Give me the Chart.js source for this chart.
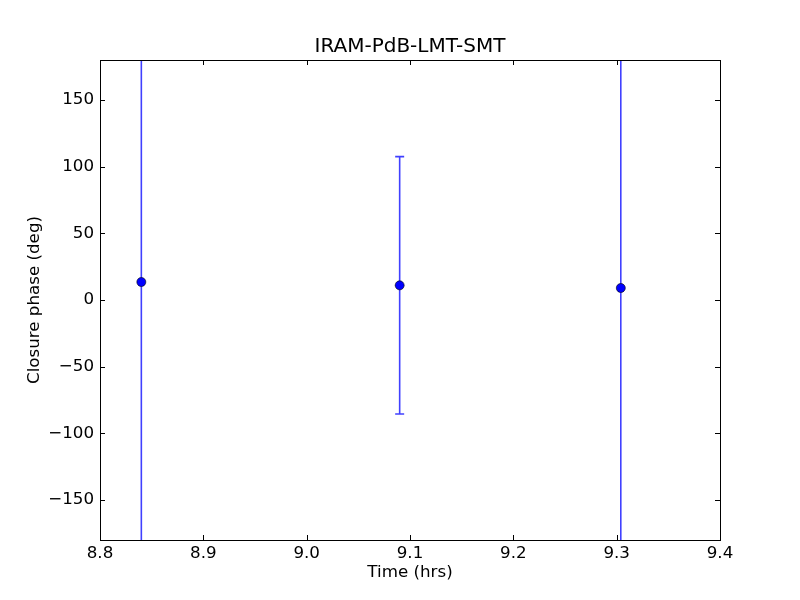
<!DOCTYPE html>
<html>
<head>
<meta charset="utf-8">
<script src="https://cdn.jsdelivr.net/npm/chart.js@4.4.0/dist/chart.umd.min.js"></script>
<style>
    html, body { margin: 0; padding: 0; background: #ffffff; }
    #wrap { width: 800px; height: 600px; }
</style>
</head>
<body>
<div id="wrap"><canvas id="cphaseChart" width="800" height="600"></canvas></div>
<script>
// 閉合位相データ
const times = [8.840, 9.090, 9.304];
const phases = [13.5, 11.0, 9.0];
const phaseErrors = [260, 96.5, 260];
// 目盛り
const xTicks = [8.8, 8.9, 9.0, 9.1, 9.2, 9.3, 9.4];
const yTicks = [-150, -100, -50, 0, 50, 100, 150];

const FONT = 'DejaVu Sans';

// エラーバー描画
const errorBarPlugin = {
    id: 'errorBars',
    beforeDatasetsDraw(chart) {
        const ctx = chart.ctx;
        const xs = chart.scales.x, ys = chart.scales.y;
        const area = chart.chartArea;
        ctx.save();
        ctx.beginPath();
        ctx.rect(area.left, area.top, area.right - area.left, area.bottom - area.top);
        ctx.clip();
        ctx.strokeStyle = 'rgba(0, 0, 255, 0.75)';
        ctx.lineWidth = 1.6;
        times.forEach((t, i) => {
            const px = xs.getPixelForValue(t);
            const yTop = ys.getPixelForValue(phases[i] + phaseErrors[i]);
            const yBot = ys.getPixelForValue(phases[i] - phaseErrors[i]);
            ctx.beginPath();
            ctx.moveTo(px, yTop);
            ctx.lineTo(px, yBot);
            ctx.moveTo(px - 4.5, yTop);
            ctx.lineTo(px + 4.5, yTop);
            ctx.moveTo(px - 4.5, yBot);
            ctx.lineTo(px + 4.5, yBot);
            ctx.stroke();
        });
        ctx.restore();
    }
};

// 枠と内向き目盛り（matplotlib風）
const frameTicksPlugin = {
    id: 'frameTicks',
    afterDraw(chart) {
        const ctx = chart.ctx;
        const xs = chart.scales.x, ys = chart.scales.y;
        const a = chart.chartArea;
        const len = 5;
        ctx.save();
        ctx.strokeStyle = '#000000';
        ctx.lineWidth = 1;
        ctx.beginPath();
        xTicks.forEach(v => {
            const px = Math.round(xs.getPixelForValue(v)) + 0.5;
            ctx.moveTo(px, a.bottom);
            ctx.lineTo(px, a.bottom - len);
            ctx.moveTo(px, a.top);
            ctx.lineTo(px, a.top + len);
        });
        yTicks.forEach(v => {
            const py = Math.round(ys.getPixelForValue(v)) + 0.5;
            ctx.moveTo(a.left, py);
            ctx.lineTo(a.left + len, py);
            ctx.moveTo(a.right, py);
            ctx.lineTo(a.right - len, py);
        });
        ctx.stroke();
        ctx.strokeRect(Math.round(a.left) + 0.5, Math.round(a.top) + 0.5,
            Math.round(a.right - a.left), Math.round(a.bottom - a.top));
        ctx.restore();
    }
};

const ctx = document.getElementById('cphaseChart').getContext('2d');
const cphaseChart = new Chart(ctx, {
    type: 'scatter',
    data: {
        datasets: [{
            label: 'closure phase',
            data: times.map((t, i) => ({ x: t, y: phases[i] })),
            backgroundColor: '#0000ff',
            borderColor: '#000000',
            borderWidth: 0.6,
            pointRadius: 4.5,
            pointHoverRadius: 4.5
        }]
    },
    options: {
        responsive: false,
        animation: false,
        layout: { padding: { left: 0, right: 80, top: 0, bottom: 0 } },
        plugins: {
            legend: { display: false },
            tooltip: { enabled: false },
            title: {
                display: true,
                fullSize: false,
                text: 'IRAM-PdB-LMT-SMT',
                color: '#000000',
                font: { family: FONT, size: 20, weight: 'normal', lineHeight: 1.2 },
                padding: { top: 35, bottom: 1 }
            }
        },
        scales: {
            x: {
                type: 'linear',
                min: 8.8,
                max: 9.4,
                afterBuildTicks: axis => { axis.ticks = xTicks.map(v => ({ value: v })); },
                afterFit: axis => { axis.height = 60; },
                grid: { display: false, drawTicks: false },
                border: { display: false },
                ticks: {
                    color: '#000000',
                    padding: 4,
                    maxRotation: 0,
                    font: { family: FONT, size: 16.7 },
                    callback: v => v.toFixed(1)
                },
                title: {
                    display: true,
                    text: 'Time (hrs)',
                    color: '#000000',
                    font: { family: FONT, size: 16.7 },
                    padding: { top: 0, bottom: 17 }
                }
            },
            y: {
                type: 'linear',
                min: -180,
                max: 180,
                afterBuildTicks: axis => { axis.ticks = yTicks.map(v => ({ value: v })); },
                afterFit: axis => { axis.width = 100; },
                grid: { display: false, drawTicks: false },
                border: { display: false },
                ticks: {
                    color: '#000000',
                    padding: 6,
                    font: { family: FONT, size: 16.7 },
                    callback: v => (v < 0 ? '\u2212' + Math.abs(v) : String(v))
                },
                title: {
                    display: true,
                    text: 'Closure phase (deg)',
                    color: '#000000',
                    font: { family: FONT, size: 16.7 },
                    padding: { top: 25, bottom: 0 }
                }
            }
        }
    },
    plugins: [errorBarPlugin, frameTicksPlugin]
});
</script>
</body>
</html>
